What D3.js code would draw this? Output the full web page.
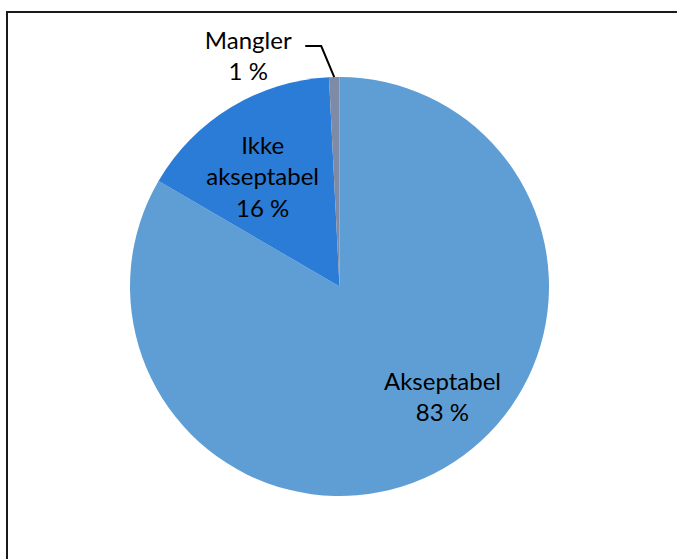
<!DOCTYPE html>
<html>
<head>
<meta charset="utf-8">
<script src="https://cdn.jsdelivr.net/npm/d3@7"></script>
<style>
  html, body { margin: 0; padding: 0; background: #fff; }
  svg { display: block; }
  text { font-family: Lato, "Open Sans", sans-serif; fill: #000; }
</style>
</head>
<body>
<svg id="chart" width="677" height="559"></svg>
<script>
// ---- data ----
const categories = ["Akseptabel", "Ikke akseptabel", "Mangler"];
const values = [83.4, 15.8, 0.8];
const labelLines = [["Akseptabel", "83 %"], ["Ikke", "akseptabel", "16 %"], ["Mangler", "1 %"]];
const colors = ["#5F9ED5", "#2B7CD7", "#7D8BA6"];

// ---- layout ----
const W = 677, H = 559;
const cx = 339.5, cy = 286.5, R = 209.5;
const fontSize = 24;
const lineH = 31.5;

const svg = d3.select("#chart");
svg.append("rect").attr("width", W).attr("height", H).attr("fill", "#fff");

// frame (chart area border, extends beyond right/bottom)
svg.append("path")
  .attr("d", `M7,${H + 5}V12H${W + 5}`)
  .attr("fill", "none").attr("stroke", "#1a1a1a").attr("stroke-width", 2);

const data = categories.map((c, i) => ({ cat: c, value: values[i], lines: labelLines[i], color: colors[i] }));

const pie = d3.pie().sort(null).value(d => d.value);
const arcs = pie(data);
const arc = d3.arc().innerRadius(0).outerRadius(R);

const g = svg.append("g").attr("transform", `translate(${cx},${cy})`);
g.selectAll("path.slice").data(arcs).enter().append("path")
  .attr("class", "slice")
  .attr("d", arc)
  .attr("fill", d => d.data.color);

// label placement: inside labels at (angle, radius) relative to center
const insideLabelPos = [
  { radius: 151, angleDeg: 137 },
  { radius: 134, angleDeg: 325 }
];

function polar(rad, angDeg) {
  const a = angDeg * Math.PI / 180;
  return [rad * Math.sin(a), -rad * Math.cos(a)];
}

arcs.forEach((a, i) => {
  const lines = a.data.lines;
  let x, y;
  if (i < 2) {
    [x, y] = polar(insideLabelPos[i].radius, insideLabelPos[i].angleDeg);
  } else {
    // outside label with leader line
    const mid = (a.startAngle + a.endAngle) / 2;
    const edge = [R * Math.sin(mid), -R * Math.cos(mid)];
    const elbow = [edge[0] - 13, edge[1] - 31];
    const end = [elbow[0] - 16, elbow[1]];
    g.append("polyline")
      .attr("points", [end, elbow, edge].map(p => p.join(",")).join(" "))
      .attr("fill", "none").attr("stroke", "#000").attr("stroke-width", 2);
    x = end[0] - 57;
    y = end[1] + 10;
  }
  const t = g.append("text")
    .attr("text-anchor", "middle")
    .attr("font-size", fontSize);
  const n = lines.length;
  lines.forEach((ln, j) => {
    t.append("tspan")
      .attr("x", x)
      .attr("y", y + (j - (n - 1) / 2) * lineH + fontSize * 0.35)
      .text(ln);
  });
});
</script>
</body>
</html>
